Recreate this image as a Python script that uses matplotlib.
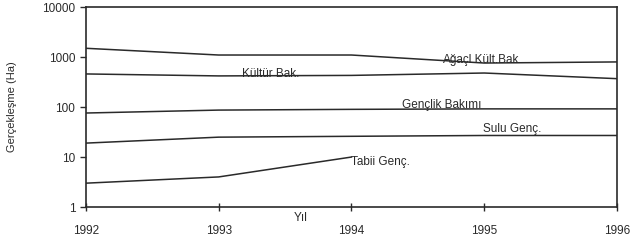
import matplotlib
matplotlib.use("Agg")
import matplotlib.pyplot as plt

plt.rcParams['font.family'] = ['Liberation Sans', 'DejaVu Sans']

years = [1992, 1993, 1994, 1995, 1996]
agacl_kult = [1500, 1100, 1100, 760, 800]
kultur_bak = [460, 420, 430, 480, 370]
genclik_bak = [76, 87, 90, 92, 92]
sulu_genc = [19, 25, 26, 27, 27]
tabii_years = [1992, 1993, 1994]
tabii_genc = [3, 4, 10]

fig = plt.figure(figsize=(6.31, 2.45), dpi=100)
ax = fig.add_axes([0.136, 0.155, 0.842, 0.816])

c = '#2a2a2a'
ax.plot(years, agacl_kult, color=c, lw=1.1)
ax.plot(years, kultur_bak, color=c, lw=1.1)
ax.plot(years, genclik_bak, color=c, lw=1.1)
ax.plot(years, sulu_genc, color=c, lw=1.1)
ax.plot(tabii_years, tabii_genc, color=c, lw=1.1)

ax.set_yscale('log')
ax.set_ylim(1, 10000)
ax.set_xlim(1992, 1996)
ax.set_yticks([1, 10, 100, 1000, 10000])
ax.set_yticklabels(['1', '10', '100', '1000', '10000'])
ax.minorticks_off()
ax.set_xticks(years)
ax.set_xticklabels([str(y) for y in years])
ax.tick_params(axis='both', labelsize=8.5, colors=c, length=4, width=1)
ax.tick_params(axis='x', direction='inout', length=6, pad=10)
for s in ax.spines.values():
    s.set_color(c)
    s.set_linewidth(1.2)

fs = 8.5
ax.text(1993.39, 460, 'Kültür Bak.', fontsize=fs, ha='center', va='center', color=c)
ax.text(1994.98, 870, 'Ağaçl.Kült.Bak', fontsize=fs, ha='center', va='center', color=c)
ax.text(1994.68, 112, 'Gençlik Bakımı', fontsize=fs, ha='center', va='center', color=c)
ax.text(1995.21, 36, 'Sulu Genç.', fontsize=fs, ha='center', va='center', color=c)
ax.text(1994.0, 8, 'Tabii Genç.', fontsize=fs, ha='left', va='center', color=c)

ax.set_xlabel('Yıl', fontsize=8.5, color=c)
ax.xaxis.set_label_coords(0.404, -0.025, transform=ax.transAxes)
ax.xaxis.label.set_va('top')
ax.set_ylabel('Gerçekleşme (Ha)', fontsize=8, color=c, labelpad=18)

fig.savefig('out.png', dpi=100)
